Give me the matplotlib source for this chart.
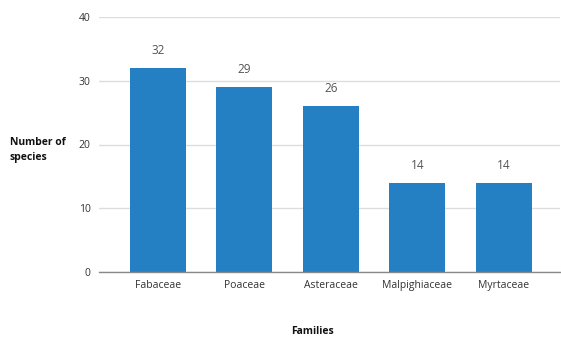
import matplotlib
matplotlib.use("Agg")
import matplotlib.pyplot as plt

families = ["Fabaceae", "Poaceae", "Asteraceae", "Malpighiaceae", "Myrtaceae"]
species = [32, 29, 26, 14, 14]
yticks = [0, 10, 20, 30, 40]

plt.rcParams['font.family'] = ['Open Sans', 'DejaVu Sans']

fig = plt.figure(figsize=(5.61, 3.37), dpi=100)
ax = fig.add_axes([99/561, 1-272/337, 461/561, 255/337])

x = list(range(len(families)))
bars = ax.bar(x, species, width=0.65, color="#2580c3", zorder=3)
for xi, v in zip(x, species):
    ax.text(xi, v + 1.7, str(v), ha="center", va="bottom", fontsize=8.5, color="#555555")

ax.set_xlim(-0.68, 4.65)
ax.set_ylim(0, 40)
ax.set_yticks(yticks)
ax.set_xticks(x)
ax.set_xticklabels(families)
ax.grid(axis="y", color="#dddddd", linewidth=1, zorder=0)
for s in ["top", "right", "left"]:
    ax.spines[s].set_visible(False)
ax.spines["bottom"].set_color("#888888")
ax.spines["bottom"].set_linewidth(1)
ax.spines["bottom"].set_zorder(4)
ax.tick_params(axis="both", length=0, labelsize=7.5, colors="#333333")
ax.tick_params(axis="y", pad=6)
ax.tick_params(axis="x", pad=6)

fig.text(10/561, 1-150/337, "Number of\nspecies", ha="left", va="center",
         fontsize=7.5, fontweight="bold", color="#111111", linespacing=1.4)
fig.text(313/561, 1-331/337, "Families", ha="center", va="center",
         fontsize=7.5, fontweight="bold", color="#111111")

fig.savefig("out.png", dpi=100)
